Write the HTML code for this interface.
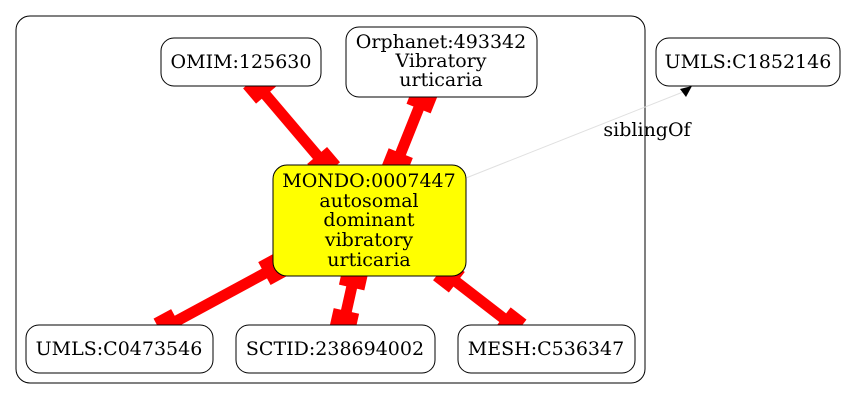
<!DOCTYPE html>
<html><head><meta charset="utf-8"><style>
html,body{margin:0;padding:0;background:#fff;}
svg{display:block;}
text{font-family:"DejaVu Serif","Liberation Serif",serif;font-size:19px;fill:#000;text-anchor:middle;}
</style></head><body>
<svg width="848" height="400" viewBox="0 0 848 400" xmlns="http://www.w3.org/2000/svg">
<rect x="16" y="16" width="629" height="367" rx="14" fill="#fff" stroke="#000" stroke-width="1"/>

<line x1="466" y1="178" x2="683" y2="92" stroke="#e0e0e0" stroke-width="1"/>
<polygon points="692,86 680,89 686,97" fill="#000"/>
<text x="647" y="136">siblingOf</text>

<g fill="#f00" stroke="none">
<g transform="translate(253,80) rotate(49.6)"><rect x="0" y="-5.5" width="119" height="11"/><rect x="0" y="-13" width="20" height="26"/><rect x="99" y="-13" width="20" height="26"/></g>
<g transform="translate(426,90) rotate(111.8)"><rect x="0" y="-5.5" width="88" height="11"/><rect x="0" y="-13" width="20" height="26"/><rect x="68" y="-13" width="20" height="26"/></g>
<g transform="translate(282,264) rotate(151.6)"><rect x="0" y="-5.5" width="139" height="11"/><rect x="0" y="-13" width="20" height="26"/><rect x="119" y="-13" width="20" height="26"/></g>
<g transform="translate(356,268) rotate(102.6)"><rect x="0" y="-5.5" width="64" height="11"/><rect x="0" y="-13" width="20" height="26"/><rect x="44" y="-13" width="20" height="26"/></g>
<g transform="translate(441,270) rotate(37.7)"><rect x="0" y="-5.5" width="98" height="11"/><rect x="0" y="-13" width="20" height="26"/><rect x="78" y="-13" width="20" height="26"/></g>
</g>

<rect x="161" y="38" width="160" height="48" rx="13" fill="#fff" stroke="#000"/>
<text x="241" y="68">OMIM:125630</text>

<rect x="346" y="27" width="191" height="70" rx="13" fill="#fff" stroke="#000"/>
<text x="441" y="48">Orphanet:493342</text>
<text x="441" y="67">Vibratory</text>
<text x="441" y="86">urticaria</text>

<rect x="656" y="38" width="184" height="48" rx="13" fill="#fff" stroke="#000"/>
<text x="748" y="68">UMLS:C1852146</text>

<rect x="273" y="165" width="193" height="111" rx="14" fill="#ff0" stroke="#000"/>
<text x="369" y="187">MONDO:0007447</text>
<text x="369" y="207">autosomal</text>
<text x="369" y="226">dominant</text>
<text x="369" y="246">vibratory</text>
<text x="369" y="266">urticaria</text>

<rect x="26" y="325" width="187" height="48" rx="13" fill="#fff" stroke="#000"/>
<text x="119" y="355">UMLS:C0473546</text>

<rect x="236" y="325" width="199" height="48" rx="13" fill="#fff" stroke="#000"/>
<text x="335" y="355">SCTID:238694002</text>

<rect x="458" y="325" width="177" height="48" rx="13" fill="#fff" stroke="#000"/>
<text x="546" y="355">MESH:C536347</text>
</svg>
</body></html>
